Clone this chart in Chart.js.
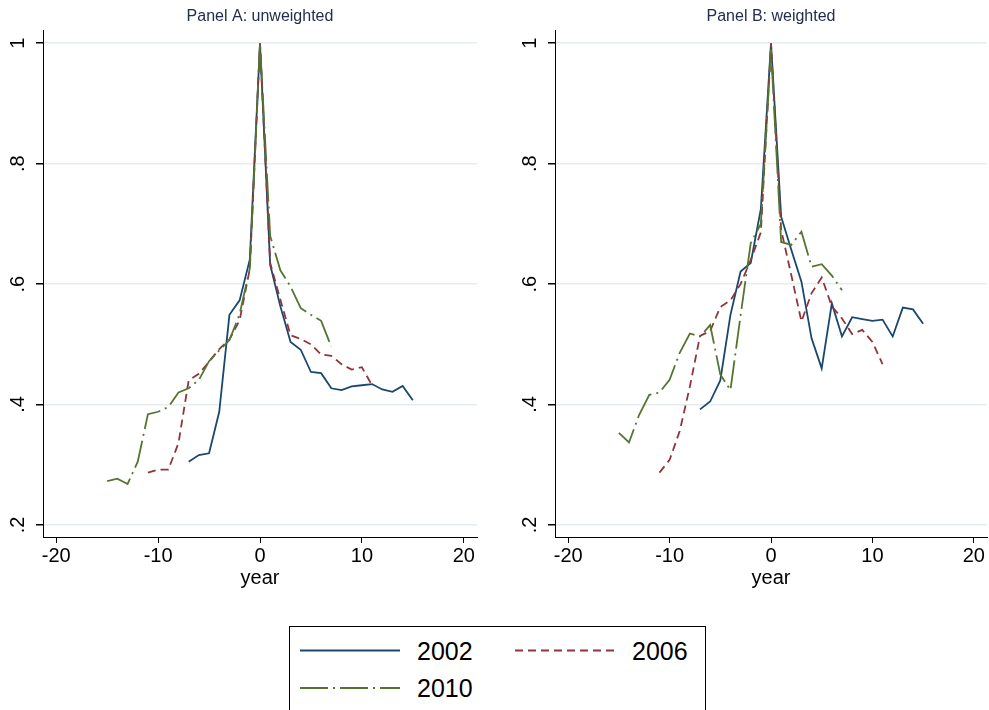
<!DOCTYPE html>
<html>
<head>
<meta charset="utf-8">
<title>Panel A / Panel B</title>
<script src="https://cdn.jsdelivr.net/npm/chart.js@4.4.0/dist/chart.umd.min.js"></script>
<style>
  body { margin: 0; background: #fff; font-family: "Liberation Sans", Arial, sans-serif; }
  #page { position: relative; width: 989px; height: 710px; overflow: hidden; background: #fff; }
  canvas { position: absolute; top: 0; }
  #chartA { left: 0; }
  #chartB { left: 510px; }
  #legend { position: absolute; left: 289px; top: 626px; width: 415px; height: 100px; border: 1px solid #000; }
</style>
</head>
<body>
<div id="page">
  <canvas id="chartA" width="490" height="600"></canvas>
  <canvas id="chartB" width="479" height="600"></canvas>
  <div id="legend"></div>
</div>
<script>
// years relative to event, one list per cohort
const years2002 = [-7, -6, -5, -4, -3, -2, -1, 0, 1, 2, 3, 4, 5, 6, 7, 8, 9, 10, 11, 12, 13, 14, 15];
const years2006 = [-11, -10, -9, -8, -7, -6, -5, -4, -3, -2, -1, 0, 1, 2, 3, 4, 5, 6, 7, 8, 9, 10, 11];
const years2010 = [-15, -14, -13, -12, -11, -10, -9, -8, -7, -6, -5, -4, -3, -2, -1, 0, 1, 2, 3, 4, 5, 6, 7];

// Panel A: unweighted
const unweighted2002 = [0.305, 0.316, 0.319, 0.388, 0.549, 0.573, 0.641, 1.0, 0.632, 0.563, 0.504, 0.491, 0.454, 0.452, 0.427, 0.424, 0.430, 0.432, 0.434, 0.425, 0.421, 0.431, 0.407];
const unweighted2006 = [0.287, 0.292, 0.292, 0.336, 0.440, 0.451, 0.471, 0.492, 0.508, 0.540, 0.625, 1.0, 0.635, 0.574, 0.515, 0.509, 0.500, 0.483, 0.481, 0.467, 0.458, 0.462, 0.432];
const unweighted2010 = [0.273, 0.277, 0.268, 0.305, 0.384, 0.388, 0.396, 0.420, 0.427, 0.441, 0.472, 0.490, 0.507, 0.550, 0.626, 1.0, 0.680, 0.623, 0.596, 0.560, 0.549, 0.539, 0.496];

// Panel B: weighted
const weighted2002 = [0.392, 0.405, 0.440, 0.549, 0.621, 0.635, 0.725, 1.0, 0.712, 0.657, 0.604, 0.510, 0.460, 0.568, 0.513, 0.545, 0.542, 0.539, 0.541, 0.513, 0.561, 0.558, 0.534];
const weighted2006 = [0.287, 0.308, 0.356, 0.430, 0.514, 0.522, 0.562, 0.573, 0.600, 0.640, 0.686, 1.0, 0.690, 0.615, 0.538, 0.585, 0.611, 0.563, 0.543, 0.517, 0.524, 0.504, 0.467];
const weighted2010 = [0.353, 0.337, 0.383, 0.416, 0.420, 0.441, 0.486, 0.518, 0.513, 0.532, 0.450, 0.424, 0.548, 0.668, 0.700, 0.99, 0.670, 0.665, 0.687, 0.629, 0.633, 0.614, 0.590];

const seriesNames = ['2002', '2006', '2010'];
const xTicks = [-20, -10, 0, 10, 20];
const xTickLabels = ['-20', '-10', '0', '10', '20'];
const yTicks = [0.2, 0.4, 0.6, 0.8, 1];
const yTickLabels = ['.2', '.4', '.6', '.8', '1'];

const FONT = '"Liberation Sans", Arial, sans-serif';
const styles = [
    { color: '#1a476f', dash: [] },
    { color: '#90353b', dash: [8, 5] },
    { color: '#55752f', dash: [28, 5, 2, 5] }
];

// stata style: y labels turned on their side, title above the plot
const panelText = {
    id: 'panelText',
    afterDraw(chart, args, opts) {
        const ctx = chart.ctx;
        const area = chart.chartArea;
        const ys = chart.scales.y;
        ctx.save();
        ctx.fillStyle = '#222e4c';
        ctx.font = '16px ' + FONT;
        ctx.textAlign = 'center';
        ctx.textBaseline = 'middle';
        ctx.fillText(opts.title, (area.left + area.right) / 2, 17);

        ctx.fillStyle = '#000';
        ctx.font = '20px ' + FONT;
        yTicks.forEach((v, i) => {
            ctx.save();
            ctx.translate(area.left - 25, ys.getPixelForValue(v));
            ctx.rotate(-Math.PI / 2);
            ctx.fillText(yTickLabels[i], 0, 0);
            ctx.restore();
        });
        ctx.restore();
    }
};

function toPoints(xs, ys) {
    return xs.map((x, i) => ({ x: x, y: ys[i] }));
}

function makePanel(canvasId, title, values, yWidth, padRight) {
    const yearLists = [years2002, years2006, years2010];
    const datasets = values.map((vals, i) => ({
        label: seriesNames[i],
        data: toPoints(yearLists[i], vals),
        borderColor: styles[i].color,
        borderDash: styles[i].dash,
        borderWidth: 1.8,
        pointRadius: 0,
        tension: 0,
        fill: false,
        order: values.length - 1 - i   // later cohorts drawn on top
    }));

    return new Chart(document.getElementById(canvasId), {
        type: 'line',
        data: { datasets: datasets },
        plugins: [panelText],
        options: {
            responsive: false,
            animation: false,
            events: [],
            layout: { padding: { top: 30, right: padRight, bottom: 10, left: 0 } },
            plugins: {
                legend: { display: false },
                tooltip: { enabled: false },
                panelText: { title: title }
            },
            scales: {
                x: {
                    type: 'linear',
                    min: -21.3,
                    max: 21.3,
                    afterBuildTicks: s => { s.ticks = xTicks.map(v => ({ value: v })); },
                    afterFit: s => { s.height = 53; },
                    grid: { drawOnChartArea: false, tickColor: '#000', tickLength: 6 },
                    border: { color: '#000', width: 1 },
                    ticks: {
                        color: '#000',
                        font: { family: FONT, size: 20 },
                        padding: 1,
                        maxRotation: 0,
                        callback: v => xTickLabels[xTicks.indexOf(v)]
                    },
                    title: {
                        display: true,
                        text: 'year',
                        color: '#000',
                        font: { family: FONT, size: 20 },
                        padding: { top: 0, bottom: 0 }
                    }
                },
                y: {
                    type: 'linear',
                    min: 0.18,
                    max: 1.022,
                    afterBuildTicks: s => { s.ticks = yTicks.map(v => ({ value: v })); },
                    afterFit: s => { s.width = yWidth; },
                    grid: { color: '#e5edf0', lineWidth: 1.5, tickColor: '#000', tickLength: 7 },
                    border: { color: '#000', width: 1 },
                    ticks: { display: false }
                }
            }
        }
    });
}

makePanel('chartA', 'Panel A: unweighted', [unweighted2002, unweighted2006, unweighted2010], 43, 13);
makePanel('chartB', 'Panel B: weighted', [weighted2002, weighted2006, weighted2010], 45, 2);

// legend box under both panels
const legendPos = [
    { x: 10, y: 23.5 },
    { x: 225, y: 23.5 },
    { x: 10, y: 61 }
];
let svg = '<svg width="415" height="100" xmlns="http://www.w3.org/2000/svg">';
seriesNames.forEach((name, i) => {
    const p = legendPos[i];
    const dash = styles[i].dash.length ? ' stroke-dasharray="' + styles[i].dash.join(' ') + '"' : '';
    svg += '<line x1="' + p.x + '" y1="' + p.y + '" x2="' + (p.x + 100) + '" y2="' + p.y +
        '" stroke="' + styles[i].color + '" stroke-width="1.8"' + dash + '/>';
    svg += '<text x="' + (p.x + 117) + '" y="' + (p.y + 9) + '" font-family=\'' + FONT +
        '\' font-size="25" fill="#000">' + name + '</text>';
});
svg += '</svg>';
document.getElementById('legend').innerHTML = svg;
</script>
</body>
</html>
